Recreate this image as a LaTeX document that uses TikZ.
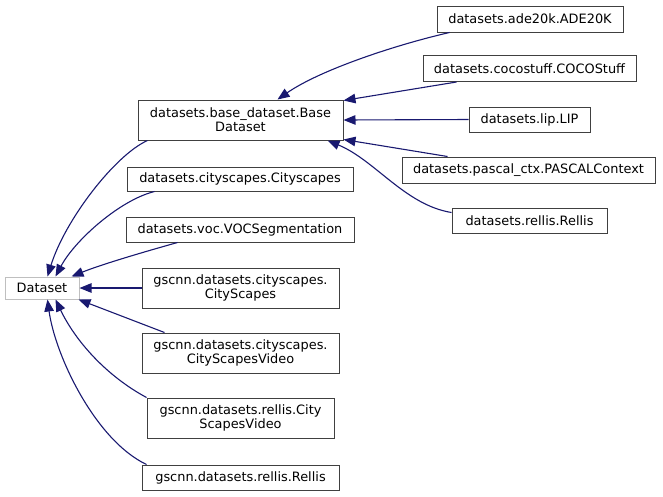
\documentclass[tikz,border=0pt]{standalone}
\usepackage{fontspec}
\setmainfont{DejaVu Sans}
\usetikzlibrary{arrows.meta,calc}
\definecolor{edgeblue}{HTML}{191970}
\definecolor{boxline}{HTML}{404040}
\definecolor{rootline}{HTML}{BFBFBF}
\tikzset{
  cls/.style={draw=boxline,line width=1pt,fill=white,inner sep=0pt,align=center,
    font=\fontsize{12.9}{14}\selectfont},
  rootcls/.style={cls,draw=rootline},
  edge/.style={draw=edgeblue,line width=1.1pt,-{Triangle[length=12pt,width=9.5pt]}}
}
\begin{document}
\begin{tikzpicture}[x=1pt,y=-1pt]
\useasboundingbox (0,0) rectangle (663,496);
% root
\node[rootcls,minimum width=74pt,minimum height=22pt] (ds) at (42,288) {Dataset};
% middle column
\node[cls,minimum width=205pt,minimum height=40pt] (base) at (240.5,120) {datasets.base\_dataset.Base\\Dataset};
\node[cls,minimum width=226pt,minimum height=24pt] (cs) at (240,179) {datasets.cityscapes.Cityscapes};
\node[cls,minimum width=228pt,minimum height=25pt] (voc) at (240,229.5) {datasets.voc.VOCSegmentation};
\node[cls,minimum width=197pt,minimum height=40pt] (gcs) at (240.5,288) {gscnn.datasets.cityscapes.\\CityScapes};
\node[cls,minimum width=197pt,minimum height=40pt] (gcsv) at (240.5,353) {gscnn.datasets.cityscapes.\\CityScapesVideo};
\node[cls,minimum width=187pt,minimum height=40pt] (rcsv) at (240.5,418) {gscnn.datasets.rellis.City\\ScapesVideo};
\node[cls,minimum width=197pt,minimum height=25pt] (grel) at (240.5,477.5) {gscnn.datasets.rellis.Rellis};
% right column
\node[cls,minimum width=186pt,minimum height=26pt] (ade) at (530,19) {datasets.ade20k.ADE20K};
\node[cls,minimum width=213pt,minimum height=26pt] (coco) at (529.5,68.5) {datasets.cocostuff.COCOStuff};
\node[cls,minimum width=121pt,minimum height=25pt] (lip) at (529.5,119.5) {datasets.lip.LIP};
\node[cls,minimum width=253pt,minimum height=26pt] (pascal) at (528.5,170) {datasets.pascal\_ctx.PASCALContext};
\node[cls,minimum width=155pt,minimum height=25pt] (rel) at (529.5,220.5) {datasets.rellis.Rellis};
% edges to Dataset
\draw[edge] ($(base.south west)+(10,0)$) .. controls (115,155) and (65,220) .. ($(ds.north west)+(43,0)$);
\draw[edge] ($(cs.south west)+(28,0)$) .. controls (120,200) and (75,240) .. ($(ds.north west)+(51,0)$);
\draw[edge] ($(voc.south west)+(52,0)$) .. controls (140,253) and (100,265) .. ($(ds.north west)+(67,0)$);
\draw[edge] (gcs.west) -- (ds.east);
\draw[edge] ($(gcsv.north west)+(23,0)$) -- ($(ds.south east)+(-1,0)$);
\draw[edge] ($(rcsv.north west)+(0,0)$) .. controls (105,375) and (75,340) .. ($(ds.south west)+(51,0)$);
\draw[edge] ($(grel.north west)+(5,0)$) .. controls (95,440) and (55,355) .. ($(ds.south west)+(43,0)$);
% edges to BaseDataset
\draw[edge] ($(ade.south west)+(13,0)$) .. controls (395,45) and (320,70) .. ($(base.north west)+(140,0)$);
\draw[edge] ($(coco.south west)+(34,0)$) -- ($(base.north east)+(0,1)$);
\draw[edge] (lip.west) -- (base.east);
\draw[edge] ($(pascal.north west)+(46,0)$) -- ($(base.south east)+(0,-1)$);
\draw[edge] ($(rel.north west)+(0,5)$) .. controls (405,205) and (375,160) .. ($(base.south east)+(-16,0)$);
\end{tikzpicture}
\end{document}
